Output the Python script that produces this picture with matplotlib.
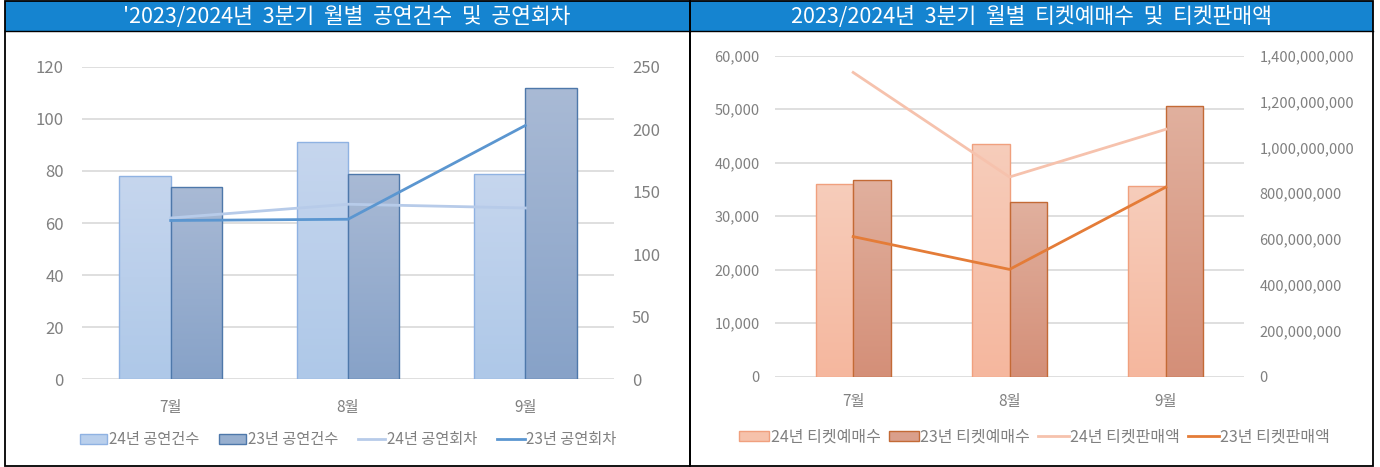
import numpy as np
import matplotlib.pyplot as plt
from matplotlib.colors import LinearSegmentedColormap
from matplotlib.patches import Rectangle, Patch
from matplotlib.lines import Line2D
from matplotlib.ticker import FuncFormatter

plt.rcParams['font.family'] = ['Noto Sans CJK KR', 'DejaVu Sans']

months = ['7월', '8월', '9월']

# left chart: performances / shows
perf_24 = [78, 91, 79]
perf_23 = [74, 79, 112]
shows_24 = [129, 140, 137]
shows_23 = [127, 128, 203]

# right chart: tickets / sales
tickets_24 = [36100, 43550, 35650]
tickets_23 = [36700, 32700, 50650]
sales_24 = [1327000000, 871000000, 1079000000]
sales_23 = [611000000, 468000000, 827000000]

TITLE_BG = '#1584d0'
GRID = '#d9d9d9'
TICK = '#808080'


def grad_bars(ax, x, h, w, top, bottom, edge):
    bars = ax.bar(x, h, w, color='none', edgecolor=edge, lw=1.0, zorder=3)
    cmap = LinearSegmentedColormap.from_list('g', [bottom, top])
    grad = np.linspace(0, 1, 256).reshape(-1, 1)
    for b in bars:
        x0 = b.get_x()
        im = ax.imshow(grad, extent=[x0, x0 + b.get_width(), 0, b.get_height()],
                       origin='lower', cmap=cmap, aspect='auto', zorder=2)
        im.set_clip_path(b)
    return bars


def style_axes(ax, ax2, fs):
    for a in (ax, ax2):
        for s in a.spines.values():
            s.set_visible(False)
        a.tick_params(length=0, colors=TICK, labelsize=fs)
    ax.grid(axis='y', color=GRID, lw=1.2, zorder=0)
    ax.set_axisbelow(True)


fig = plt.figure(figsize=(13.8, 4.67), dpi=100)

# panel frames and title bars
W, H = 1380, 467
def fx(px): return px / W
def fy(py): return 1 - py / H

for x0, x1, title in [(4.5, 689.5, "'2023/2024년  3분기  월별  공연건수  및  공연회차"),
                      (689.5, 1372.5, '2023/2024년  3분기  월별  티켓예매수  및  티켓판매액')]:
    fig.add_artist(Rectangle((fx(x0), fy(30.5)), fx(x1 - x0), 29.5 / H,
                             transform=fig.transFigure, facecolor=TITLE_BG,
                             edgecolor='none', zorder=0))
    fig.add_artist(Rectangle((fx(x0), fy(466)), fx(x1 - x0), 465 / H,
                             transform=fig.transFigure, facecolor='none',
                             edgecolor='black', lw=1.3, zorder=5))
    fig.add_artist(Line2D([fx(x0), fx(x1)], [fy(30.5), fy(30.5)],
                          transform=fig.transFigure, color='black', lw=1.0))
    fig.text(fx((x0 + x1) / 2), fy(17), title, color='white', fontsize=15.5,
             ha='center', va='center')

x = np.arange(len(months))

# ---------- left chart ----------
ax1 = fig.add_axes([82 / W, (H - 379.3) / H, 532 / W, 312.6 / H])
ax1b = ax1.twinx()
bw = 0.29
grad_bars(ax1, x - bw / 2, perf_24, bw, '#c6d6ee', '#aec8e8', '#8fb2e2')
grad_bars(ax1, x + bw / 2, perf_23, bw, '#a9bad5', '#87a2c8', '#4e78aa')
ax1b.plot(x, shows_24, color='#b7cbe9', lw=2.0, zorder=4)
ax1b.plot(x, shows_23, color='#5b96d0', lw=2.0, zorder=4)
ax1.set_xlim(-0.5, 2.5)
ax1.set_ylim(0, 120)
ax1.set_yticks(range(0, 121, 20))
ax1b.set_ylim(0, 250)
ax1b.set_yticks(range(0, 251, 50))
ax1.set_xticks(x)
ax1.set_xticklabels(months)
style_axes(ax1, ax1b, 12)
ax1.tick_params(axis='y', pad=13)
ax1b.tick_params(axis='y', pad=13)
ax1.tick_params(axis='x', pad=14, labelsize=11)

h1 = [Patch(facecolor='#b9cfec', edgecolor='#8fb2e2'),
      Patch(facecolor='#97afcf', edgecolor='#4e78aa'),
      Line2D([], [], color='#b7cbe9', lw=2),
      Line2D([], [], color='#5b96d0', lw=2)]
l1 = ['24년 공연건수', '23년 공연건수', '24년 공연회차', '23년 공연회차']
ax1.legend(h1, l1, loc='center', bbox_to_anchor=(0.5, -0.194), ncol=4,
           frameon=False, fontsize=11, labelcolor=TICK, handlelength=1.8,
           handleheight=0.65, handletextpad=0.1, columnspacing=1.3)

# ---------- right chart ----------
ax2 = fig.add_axes([775 / W, (H - 376.7) / H, 469 / W, 321 / H])
ax2b = ax2.twinx()
bw2 = 0.24
grad_bars(ax2, x - bw2 / 2, tickets_24, bw2, '#f7cdbb', '#f5b79e', '#f0a07e')
grad_bars(ax2, x + bw2 / 2, tickets_23, bw2, '#e1b09e', '#d48f78', '#c36a36')
ax2b.plot(x, sales_24, color='#f6c2ad', lw=2.0, zorder=4)
ax2b.plot(x, sales_23, color='#e47c38', lw=2.0, zorder=4)
ax2.set_xlim(-0.5, 2.5)
ax2.set_ylim(0, 60000)
ax2.set_yticks(range(0, 60001, 10000))
ax2b.set_ylim(0, 1400000000)
ax2b.set_yticks(range(0, 1400000001, 200000000))
fmt = FuncFormatter(lambda v, p: f'{int(v):,}')
ax2.yaxis.set_major_formatter(fmt)
ax2b.yaxis.set_major_formatter(fmt)
ax2.set_xticks(x)
ax2.set_xticklabels(months)
style_axes(ax2, ax2b, 10.5)
ax2.tick_params(axis='y', pad=11)
ax2b.tick_params(axis='y', pad=11)
ax2.tick_params(axis='x', pad=12, labelsize=11)

h2 = [Patch(facecolor='#f6c2ab', edgecolor='#f0a07e'),
      Patch(facecolor='#da9f8b', edgecolor='#c36a36'),
      Line2D([], [], color='#f6c2ad', lw=2),
      Line2D([], [], color='#e47c38', lw=2)]
l2 = ['24년 티켓예매수', '23년 티켓예매수', '24년 티켓판매액', '23년 티켓판매액']
ax2.legend(h2, l2, loc='center', bbox_to_anchor=(0.553, -0.188), ncol=4,
           frameon=False, fontsize=11.5, labelcolor=TICK, handlelength=1.9,
           handleheight=0.65, handletextpad=0.1, columnspacing=0.5)

fig.savefig('out.png', dpi=100)
